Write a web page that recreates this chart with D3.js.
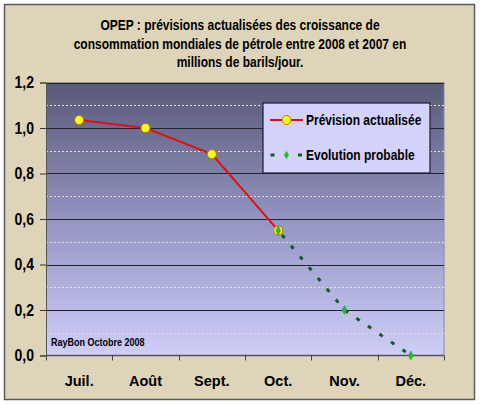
<!DOCTYPE html>
<html><head><meta charset="utf-8">
<script src="https://cdn.jsdelivr.net/npm/d3@7"></script>
<style>html,body{margin:0;padding:0;background:#fff;}svg{display:block;font-family:"Liberation Sans",Arial,sans-serif;}</style>
</head><body><div id="chart"></div>
<script>
const titleLines = ["OPEP : prévisions actualisées des croissance de",
  "consommation mondiales de pétrole entre 2008 et 2007 en",
  "millions de barils/jour."];
const months = ["Juil.", "Août", "Sept.", "Oct.", "Nov.", "Déc."];
const prevision = [1.035, 1.0, 0.885, 0.55, null, null];
const evolution = [null, null, null, 0.55, 0.2, 0.0];
const yTicks = [0, 0.2, 0.4, 0.6, 0.8, 1.0, 1.2];
const yMinor = [0.1, 0.3, 0.5, 0.7, 0.9, 1.1];
const seriesNames = ["Prévision actualisée", "Evolution probable"];
const note = "RayBon Octobre 2008";

const W = 480, H = 405;
const svg = d3.select("#chart").append("svg").attr("width", W).attr("height", H);
const defs = svg.append("defs");
const grad = defs.append("linearGradient").attr("id", "pg").attr("x1", 0).attr("x2", 0).attr("y1", 0).attr("y2", 1);
grad.append("stop").attr("offset", "0%").attr("stop-color", "#595a77");
grad.append("stop").attr("offset", "50%").attr("stop-color", "#9294c2");
grad.append("stop").attr("offset", "100%").attr("stop-color", "#cecef8");

// outer frame
svg.append("rect").attr("x", 4.5).attr("y", 4.5).attr("width", 470).attr("height", 395)
  .attr("fill", "#ddd4b9").attr("stroke", "#5c5c5c").attr("stroke-width", 1.5);

const m = {l: 46, r: 444, t: 82.5, b: 355.5};
const x = d3.scaleBand().domain(months).range([m.l, m.r]).padding(0);
const y = d3.scaleLinear().domain([0, 1.2]).range([m.b, m.t]);
const cx = d => x(d) + x.bandwidth() / 2;

function stext(g, str, tx, ty, size, anchor, sy) {
  return g.append("text").attr("transform", `translate(${tx},${ty}) scale(1,${sy || 1})`)
    .attr("text-anchor", anchor).attr("font-size", size).attr("font-weight", "bold")
    .attr("fill", "#000").text(str);
}

// title
const tb = [30, 49, 67];
titleLines.forEach((t, i) => stext(svg, t, 240, tb[i], 12, "middle", 1.2));

// plot area
svg.append("rect").attr("x", m.l).attr("y", m.t).attr("width", m.r - m.l).attr("height", m.b - m.t)
  .attr("fill", "url(#pg)");
svg.append("line").attr("x1", m.r).attr("x2", m.r).attr("y1", m.t).attr("y2", m.b)
  .attr("stroke", "#8a8a9a").attr("stroke-width", 1);

// minor gridlines
svg.append("g").selectAll("line").data(yMinor).join("line")
  .attr("x1", m.l).attr("x2", m.r).attr("y1", d => Math.round(y(d)) + 0.5).attr("y2", d => Math.round(y(d)) + 0.5)
  .attr("stroke", "#eadada").attr("stroke-width", 1).attr("stroke-dasharray", "2,2");
// major gridlines
svg.append("g").selectAll("line").data(yTicks.filter(d => d > 0)).join("line")
  .attr("x1", m.l).attr("x2", m.r).attr("y1", d => Math.round(y(d)) + 0.5).attr("y2", d => Math.round(y(d)) + 0.5)
  .attr("stroke", "#222233").attr("stroke-width", 1);

// y axis
const yAx = svg.append("g").attr("transform", `translate(${m.l},0)`)
  .call(d3.axisLeft(y).tickValues(yTicks).tickSize(6).tickFormat(d => d3.format(".1f")(d).replace(".", ",")));
yAx.select(".domain").attr("stroke", "#555");
yAx.selectAll(".tick line").attr("stroke", "#333");
yAx.selectAll(".tick text").remove();
yTicks.forEach(v => stext(svg, d3.format(".1f")(v).replace(".", ","), 34, y(v) + 5.5, 14, "end", 1.12));

// x axis
const bounds = months.map(d => x(d)).concat([m.r]);
svg.append("line").attr("x1", m.l).attr("x2", m.r).attr("y1", m.b).attr("y2", m.b).attr("stroke", "#555").attr("stroke-width", 1.5);
svg.append("g").selectAll("line").data(bounds).join("line")
  .attr("x1", d => Math.round(d) + 0.5).attr("x2", d => Math.round(d) + 0.5).attr("y1", m.b).attr("y2", m.b + 5)
  .attr("stroke", "#444");
months.forEach(mo => stext(svg, mo, cx(mo), 386, 14.5, "middle", 1.05));

// note
stext(svg, note, 51, 346, 9, "start", 1.2);

// evolution (dashed green)
const evPts = months.map((mo, i) => ({mo, v: evolution[i]})).filter(d => d.v !== null);
const lineGen = d3.line().x(d => cx(d.mo)).y(d => y(d.v));
svg.append("path").attr("d", lineGen(evPts)).attr("fill", "none")
  .attr("stroke", "#145a24").attr("stroke-width", 3).attr("stroke-dasharray", "4,10").attr("stroke-dashoffset", -6);

// prevision (red)
const prPts = months.map((mo, i) => ({mo, v: prevision[i]})).filter(d => d.v !== null);
svg.append("path").attr("d", lineGen(prPts)).attr("fill", "none").attr("stroke", "#e01010").attr("stroke-width", 2);
svg.append("g").selectAll("circle").data(prPts).join("circle")
  .attr("cx", d => cx(d.mo)).attr("cy", d => y(d.v)).attr("r", 4.5)
  .attr("fill", "#ffff10").attr("stroke", "#c07800").attr("stroke-width", 1);

const diamond = d3.symbol().type(d3.symbolDiamond).size(22);
svg.append("g").selectAll("path").data(evPts).join("path")
  .attr("transform", d => `translate(${cx(d.mo)},${y(d.v)})`).attr("d", diamond)
  .attr("fill", "#22c030").attr("stroke", "#149020").attr("stroke-width", 0.5);

// legend
const lg = svg.append("g");
lg.append("rect").attr("x", 263).attr("y", 103).attr("width", 167).attr("height", 70)
  .attr("fill", "#d2d2fa").attr("stroke", "#1c1c2c").attr("stroke-width", 1.2);
lg.append("line").attr("x1", 270).attr("x2", 303).attr("y1", 120).attr("y2", 120).attr("stroke", "#e01010").attr("stroke-width", 2);
lg.append("circle").attr("cx", 286.5).attr("cy", 120).attr("r", 4.5).attr("fill", "#ffff10").attr("stroke", "#c07800");
stext(lg, seriesNames[0], 306, 124.5, 12, "start", 1.2);
lg.append("line").attr("x1", 270.5).attr("x2", 302).attr("y1", 155).attr("y2", 155).attr("stroke", "#145a24")
  .attr("stroke-width", 3).attr("stroke-dasharray", "4,23.5");
lg.append("path").attr("transform", "translate(286.5,155)").attr("d", diamond).attr("fill", "#22c030");
stext(lg, seriesNames[1], 306, 159.5, 12, "start", 1.2);
</script></body></html>
